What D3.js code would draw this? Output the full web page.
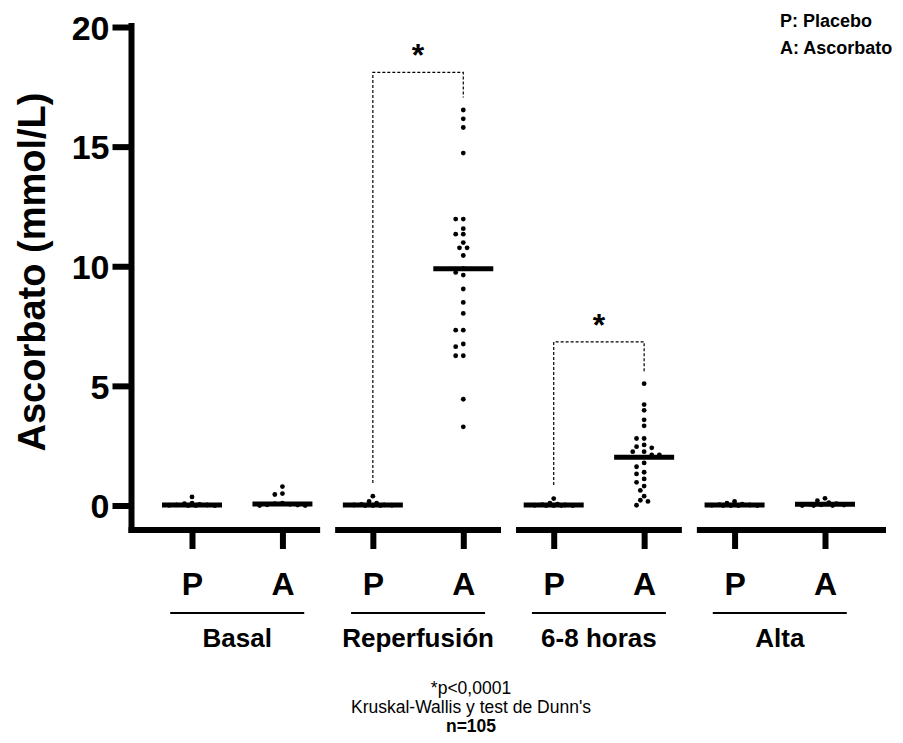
<!DOCTYPE html>
<html lang="es">
<head>
    <meta charset="UTF-8">
    <title>Ascorbato</title>
    <script src="https://cdn.jsdelivr.net/npm/d3@7/dist/d3.min.js"></script>
    <style type="text/css">
        body { margin: 0; background: #fff; }
        svg text { font-family: "Liberation Sans", Arial, sans-serif; fill: #000; }
        .bold { font-weight: bold; }
    </style>
</head>
<body>
<div id="vis"></div>
<script type="text/javascript">

    // groups and arms on the x axis
    let groups = ["Basal", "Reperfusión", "6-8 horas", "Alta"];
    let arms = ["P", "A"];

    // individual values (mmol/L)
    let basalP = [0.36, 0.1, 0.08, 0.05, 0.03, 0.02, 0.01, 0, 0, 0];
    let basalA = [0.79, 0.5, 0.46, 0.1, 0.08, 0.05, 0.03, 0.02, 0, 0];
    let reperP = [0.39, 0.17, 0.1, 0.05, 0.03, 0.02, 0.01, 0, 0, 0];
    let reperA = [16.53, 16.16, 15.8, 14.73, 11.97, 11.97, 11.57, 11.34, 11.34, 10.99, 10.77, 10.77,
        10.45, 9.9, 9.74, 9.63, 9.05, 8.49, 8.03, 7.33, 7.33, 6.75, 6.64, 6.26, 6.26, 4.44, 3.29];
    let horasP = [0.29, 0.1, 0.06, 0.04, 0.02, 0.01, 0, 0, 0, 0];
    let horasA = [5.09, 4.22, 3.98, 3.58, 3.33, 2.8, 2.8, 2.53, 2.46, 2.41, 2.25, 2.25, 2.11, 2.11,
        1.78, 1.62, 1.39, 1.32, 1.11, 0.97, 0.81, 0.63, 0.39, 0.22, 0.17, 0.01];
    let altaP = [0.17, 0.1, 0.06, 0.04, 0.02, 0.01, 0, 0, 0, 0];
    let altaA = [0.3, 0.2, 0.12, 0.08, 0.05, 0.03, 0.02, 0, 0, 0];

    let series = [basalP, basalA, reperP, reperA, horasP, horasA, altaP, altaA];
    let medians = [0.02, 0.06, 0.02, 9.9, 0.02, 2.02, 0.02, 0.05];

    let yTicks = [0, 5, 10, 15, 20];

    // significance brackets: group index, top, end of left leg, end of right leg
    let brackets = [
        {group: 1, top: 18.1, left: 0.94, right: 17.05},
        {group: 2, top: 6.84, left: 0.86, right: 5.53}
    ];

    let footnote = ["*p<0,0001", "Kruskal-Wallis y test de Dunn's", "n=105"];
    let legend = ["P: Placebo", "A: Ascorbato"];

    let width = 903, height = 743;
    let svg = d3.select("#vis").append("svg")
        .attr("width", width)
        .attr("height", height);

    let keys = [];
    groups.forEach(function (g) { arms.forEach(function (a) { keys.push(g + "|" + a); }); });

    let xScale = d3.scalePoint().domain(keys).range([192, 825]);
    let yScale = d3.scaleLinear().domain([0, 20]).range([505.5, 27]);

    let axisX = 131.5, axisY = 530;

    // y axis
    let yAxis = svg.append("g")
        .attr("transform", "translate(" + axisX + ",0)")
        .call(d3.axisLeft(yScale).tickValues(yTicks).tickSize(19).tickPadding(3).tickSizeOuter(0));
    yAxis.select(".domain").remove();
    yAxis.selectAll(".tick line").attr("stroke", "#000").attr("stroke-width", 6);
    yAxis.selectAll(".tick text")
        .attr("class", "bold")
        .style("font-size", "34px")
        .attr("dy", "0.36em");
    svg.append("line")
        .attr("x1", axisX).attr("x2", axisX)
        .attr("y1", yScale(20) - 4).attr("y2", axisY + 3)
        .attr("stroke", "#000").attr("stroke-width", 6);

    // x axis, broken between groups
    let xAxis = svg.append("g")
        .attr("transform", "translate(0," + axisY + ")")
        .call(d3.axisBottom(xScale).tickSize(19).tickSizeOuter(0)
            .tickFormat(function (d) { return d.split("|")[1]; }));
    xAxis.select(".domain").remove();
    xAxis.selectAll(".tick line").attr("stroke", "#000").attr("stroke-width", 6);
    xAxis.selectAll(".tick text")
        .attr("class", "bold")
        .style("font-size", "32px")
        .attr("y", 65)
        .attr("dy", 0);

    let gap = 7.5;
    groups.forEach(function (g, i) {
        let p = xScale(g + "|P"), a = xScale(g + "|A");
        let step = xScale.step();
        let x1 = i === 0 ? axisX - 3 : p - step / 2 + gap;
        let x2 = i === groups.length - 1 ? 886 : a + step / 2 - gap;
        svg.append("line")
            .attr("x1", x1).attr("x2", x2)
            .attr("y1", axisY).attr("y2", axisY)
            .attr("stroke", "#000").attr("stroke-width", 6);

        let mid = (p + a) / 2;
        svg.append("line")
            .attr("x1", mid - 67).attr("x2", mid + 67)
            .attr("y1", 613).attr("y2", 613)
            .attr("stroke", "#000").attr("stroke-width", 2);
        svg.append("text")
            .attr("class", "bold")
            .attr("x", mid).attr("y", 647)
            .attr("text-anchor", "middle")
            .style("font-size", "26px")
            .text(g);
    });

    // beeswarm-like placement of the dots
    let dotR = 2.4, minDist = 5.4, stepX = 3.8;
    function swarm(values, cx) {
        let placed = [];
        values.slice().sort(function (a, b) { return b - a; }).forEach(function (v) {
            let cy = yScale(v);
            let chosen = null, fallback = cx, fallbackD = -1;
            for (let k of [0, -1, 1, -2, 2, -3, 3, -4, 4, -5, 5, -6, 6]) {
                let px = cx + k * stepX;
                let d = Infinity;
                placed.forEach(function (p) { d = Math.min(d, Math.hypot(p.x - px, p.y - cy)); });
                if (d >= minDist) { chosen = px; break; }
                if (d > fallbackD) { fallbackD = d; fallback = px; }
            }
            placed.push({x: chosen === null ? fallback : chosen, y: cy});
        });
        return placed;
    }

    keys.forEach(function (k, i) {
        let cx = xScale(k);
        svg.append("g").selectAll("circle")
            .data(swarm(series[i], cx))
            .enter().append("circle")
            .attr("cx", function (d) { return d.x; })
            .attr("cy", function (d) { return d.y; })
            .attr("r", dotR)
            .attr("fill", "#000");
        svg.append("line")
            .attr("x1", cx - 30).attr("x2", cx + 30)
            .attr("y1", yScale(medians[i])).attr("y2", yScale(medians[i]))
            .attr("stroke", "#000").attr("stroke-width", 5);
    });

    // brackets
    brackets.forEach(function (b) {
        let xl = xScale(groups[b.group] + "|P"), xr = xScale(groups[b.group] + "|A");
        let yt = yScale(b.top);
        svg.append("path")
            .attr("d", "M" + xl + "," + yScale(b.left) + "V" + yt + "H" + xr + "V" + yScale(b.right))
            .attr("fill", "none")
            .attr("stroke", "#000")
            .attr("stroke-width", 1.2)
            .attr("stroke-dasharray", "3,2");
        svg.append("text")
            .attr("class", "bold")
            .attr("x", (xl + xr) / 2).attr("y", yt - 6)
            .attr("text-anchor", "middle")
            .style("font-size", "32px")
            .text("*");
    });

    // y title
    svg.append("text")
        .attr("class", "bold")
        .attr("transform", "translate(45,272) rotate(-90)")
        .attr("text-anchor", "middle")
        .style("font-size", "38px")
        .text("Ascorbato (mmol/L)");

    // legend
    legend.forEach(function (t, i) {
        svg.append("text")
            .attr("class", "bold")
            .attr("x", 780).attr("y", 27 + i * 27)
            .style("font-size", "18px")
            .text(t);
    });

    // footnote
    footnote.forEach(function (t, i) {
        svg.append("text")
            .attr("class", i === 2 ? "bold" : null)
            .attr("x", 471).attr("y", 694 + i * 19)
            .attr("text-anchor", "middle")
            .style("font-size", "17.5px")
            .text(t);
    });
</script>
</body>
</html>
